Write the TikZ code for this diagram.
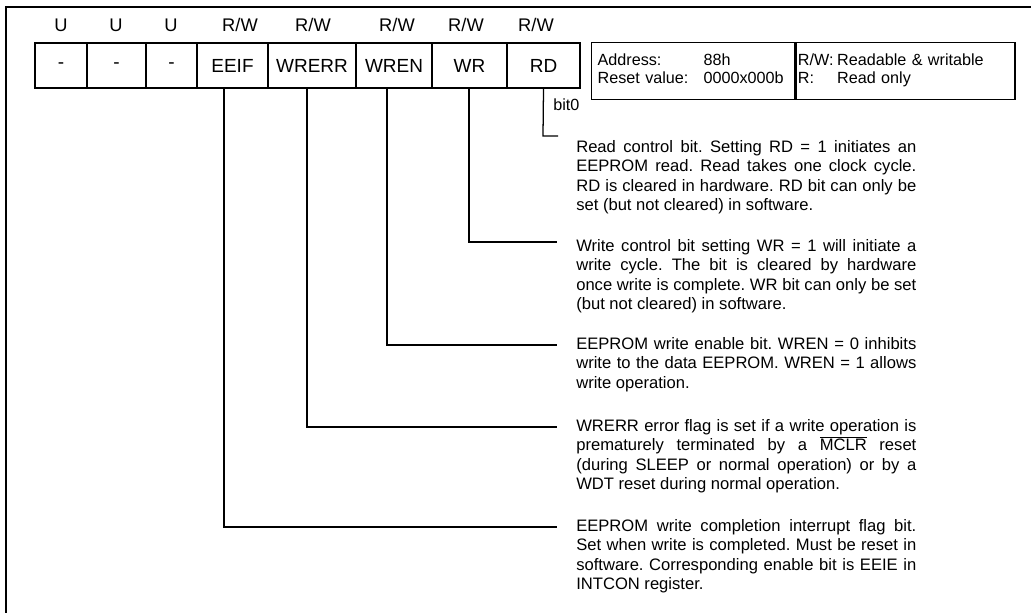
\documentclass[tikz,border=0pt]{standalone}
\usepackage{fontspec}
\setmainfont{Liberation Sans}
\usetikzlibrary{calc}

\tikzset{
  cell/.style={draw, line width=0.9pt, minimum height=1.125cm, inner sep=0pt,
    font=\fontsize{13.5}{16}\selectfont},
  head/.style={inner sep=0pt, font=\fontsize{13}{16}\selectfont},
  lead/.style={line width=0.9pt},
  desc/.style={anchor=north west, inner sep=0pt, text width=8.5cm, align=justify,
    font=\fontsize{11.8}{13.8}\selectfont\frenchspacing},
  infobox/.style={draw, line width=0.9pt, minimum height=1.425cm, anchor=north west,
    inner ysep=0pt, align=left, font=\fontsize{11.5}{12.8}\selectfont},
}

\begin{document}
\begin{tikzpicture}[x=0.025cm, y=-0.025cm]
  \useasboundingbox (0,0) rectangle (1031,613);

  % Frame
  \draw[lead] (1031,7) -- (6,7) -- (6,613);

  % Register cells
  \foreach \nm/\l/\r/\txt in {b7/35/87/-, b6/87/146/-, b5/146/197/-,
      eeif/197/268/EEIF, wrerr/268/356/WRERR, wren/356/432/WREN,
      wr/432/507/WR, rd/507/580/RD}
    \node[cell, minimum width={(\r-\l)*0.025cm}] (\nm) at ({(\l+\r)/2},65.5) {\txt};

  % Access headers
  \foreach \x/\t [count=\i] in {61/U, 116/U, 171/U, 240/{R/W}, 313/{R/W},
      397/{R/W}, 466/{R/W}, 536/{R/W}}
    \node[head] (hd\i) at (\x,25) {\t};

  % Address box
  \node[infobox, minimum width=5.075cm, inner xsep=0.15cm, text width=4.775cm]
    (addr) at (591,42)
    {\begin{tabular}{@{}p{2.65cm}@{}l@{}}
      Address: & 88h\\
      Reset value: & 0000x000b
    \end{tabular}};
  \node[infobox, minimum width=5.475cm, inner xsep=0.05cm, text width=5.375cm]
    (key) at (addr.north east)
    {\begin{tabular}{@{}p{0.98cm}@{}l@{}}
      R/W: & Readable \& writable\\
      R: & Read only
    \end{tabular}};

  % bit0
  \node[inner sep=0pt, anchor=west, font=\fontsize{11.5}{13.5}\selectfont]
    (bitzero) at (553,105) {bit0};

  % Descriptions
  \node[desc] (rdtxt) at (576,140)
    {Read control bit. Setting RD = 1 initiates an\linebreak
     EEPROM read. Read takes one clock cycle.\linebreak
     RD is cleared in hardware.\ RD bit can only be\linebreak
     set (but not cleared) in software.};
  \node[desc] (wrtxt) at (576,239)
    {Write control bit setting WR = 1 will initiate a\linebreak
     write cycle. The bit is cleared by hardware\linebreak
     once write is complete.\ WR bit can only be set\linebreak
     (but not cleared) in software.};
  \node[desc] (wrentxt) at (576,337)
    {EEPROM write enable bit.\ WREN = 0 inhibits\linebreak
     write to the data EEPROM.\ WREN = 1 allows\linebreak
     write operation.};
  \node[desc] (wrerrtxt) at (576,419)
    {WRERR error flag is set if a write operation is\linebreak
     prematurely terminated by a $\overline{\mbox{MCLR}}$ reset\linebreak
     (during\ SLEEP or normal operation) or by a\linebreak
     WDT reset during normal operation.};
  \node[desc] (eeiftxt) at (576,519)
    {EEPROM write completion interrupt flag bit.\linebreak
     Set when write is completed.\ Must be reset in\linebreak
     software.\ Corresponding enable bit is EEIE in\linebreak
     INTCON register.};

  % Leaders
  \coordinate (rdbend) at (543,136);
  \coordinate (rdend) at (558,136);
  \draw[lead] (rd.south) -- (rdbend) -- (rdend);
  \foreach \nm/\x/\y in {wr/469/242, wren/387/345, wrerr/307/427, eeif/224/527} {
    \coordinate (\nm bend) at (\x,\y);
    \coordinate (\nm end) at (557,\y);
    \draw[lead] (\nm.south -| \nm bend) -- (\nm bend) -- (\nm end);
  }
\end{tikzpicture}
\end{document}
